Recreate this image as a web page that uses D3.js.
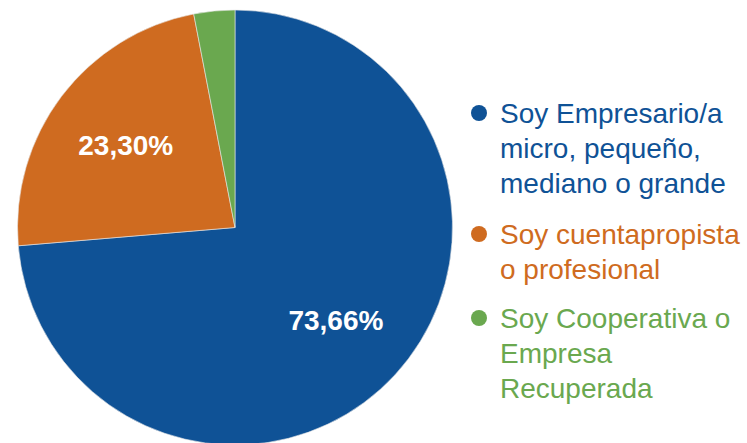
<!DOCTYPE html>
<html>
<head>
<meta charset="utf-8">
<script src="https://cdn.jsdelivr.net/npm/d3@7"></script>
<style>
  body { margin: 0; background: #fff; }
  svg { display: block; font-family: "Liberation Sans", Arial, sans-serif; }
</style>
</head>
<body>
<div id="chart"></div>
<script>
// data
const categories = ["Soy Empresario/a micro, pequeño, mediano o grande", "Soy cuentapropista o profesional", "Soy Cooperativa o Empresa Recuperada"];
const values = [73.66, 23.30, 3.04];
const sliceLabels = ["73,66%", "23,30%", ""];
const legendLines = [
  ["Soy Empresario/a", "micro, pequeño,", "mediano o grande"],
  ["Soy cuentapropista", "o profesional"],
  ["Soy Cooperativa o", "Empresa", "Recuperada"]
];
const colors = ["#0f5296", "#cf6b20", "#6aa84f"];

const width = 747, height = 443;
const cx = 235, cy = 227.5, radius = 217.5;

const svg = d3.select("#chart").append("svg")
  .attr("width", width)
  .attr("height", height);

const pie = d3.pie().sort(null).value(d => d)(values);
const arc = d3.arc().innerRadius(0).outerRadius(radius);
const labelArc = d3.arc().innerRadius(radius * 0.63).outerRadius(radius * 0.63);

const g = svg.append("g").attr("transform", `translate(${cx},${cy})`);

g.selectAll("path.slice")
  .data(pie)
  .enter().append("path")
    .attr("class", "slice")
    .attr("d", arc)
    .attr("fill", (d, i) => colors[i])
    .attr("stroke", "#e8e8e8")
    .attr("stroke-width", 0.6);

g.selectAll("text.label")
  .data(pie)
  .enter().append("text")
    .attr("class", "label")
    .attr("transform", d => `translate(${labelArc.centroid(d)})`)
    .attr("text-anchor", "middle")
    .attr("dy", "0.35em")
    .attr("fill", "#fff")
    .attr("font-weight", "bold")
    .attr("font-size", 28)
    .text((d, i) => sliceLabels[i]);

// legend
const legendTop = [113, 234, 318];
const lineH = 35;
const legend = svg.append("g").attr("class", "legend");

legendLines.forEach((lines, i) => {
  const item = legend.append("g").attr("transform", `translate(0,${legendTop[i]})`);
  item.append("circle")
    .attr("cx", 479)
    .attr("cy", 0)
    .attr("r", 8)
    .attr("fill", colors[i]);
  item.selectAll("text")
    .data(lines)
    .enter().append("text")
      .attr("x", 500)
      .attr("y", (d, j) => j * lineH)
      .attr("dy", "0.35em")
      .attr("fill", colors[i])
      .attr("font-size", 28)
      .text(d => d);
});
</script>
</body>
</html>
